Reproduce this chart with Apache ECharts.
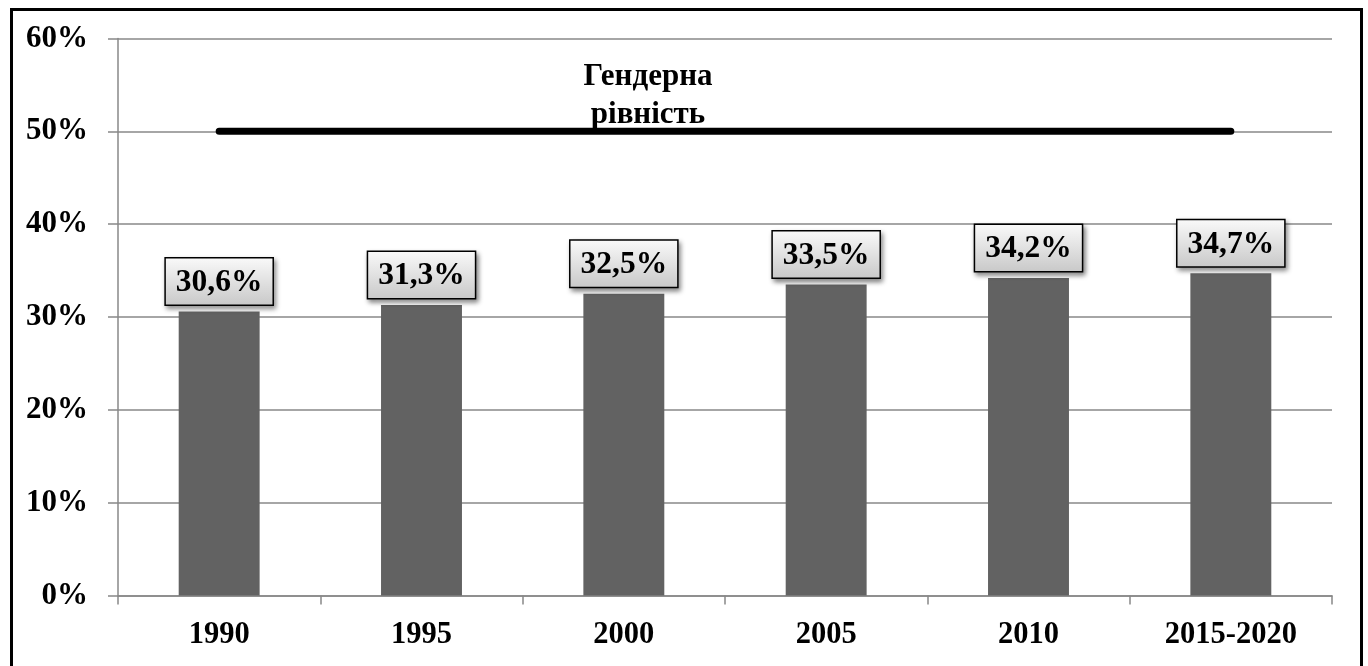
<!DOCTYPE html>
<html><head><meta charset="utf-8">
<script src="https://cdn.jsdelivr.net/npm/echarts@6/dist/echarts.min.js"></script>
<style>html,body{margin:0;padding:0;background:#fff}#c{width:1368px;height:666px}</style>
</head><body><div id="c"></div>
<script>
var categories = ['1990','1995','2000','2005','2010','2015-2020'];
var shareValues = [30.6, 31.3, 32.5, 33.5, 34.2, 34.7];
var parityValues = [50, 50, 50, 50, 50, 50];
var parityLabel = 'Гендерна\nрівність';
var yTicks = [0, 10, 20, 30, 40, 50, 60];

var FONT = '"Liberation Serif", "Times New Roman", serif';
var chart = echarts.init(document.getElementById('c'));
chart.setOption({
  animation: false,
  backgroundColor: '#fff',
  grid: {left: 118, right: 36, top: 38.5, bottom: 70.5},
  title: {
    text: parityLabel, left: 643, top: 53, textAlign: 'center',
    textStyle: {fontFamily: FONT, fontSize: 31, fontWeight: 'bold', lineHeight: 38, color: '#000'}
  },
  xAxis: {
    type: 'category', data: categories,
    axisLine: {lineStyle: {color: '#888', width: 1.5}},
    axisTick: {show: true, length: 9, lineStyle: {color: '#888', width: 1.5}},
    axisLabel: {fontFamily: FONT, fontSize: 30.5, fontWeight: 'bold', color: '#000', margin: 24}
  },
  yAxis: {
    type: 'value', min: yTicks[0], max: yTicks[yTicks.length - 1], interval: 10,
    axisLine: {show: true, lineStyle: {color: '#888', width: 1.5}},
    axisTick: {show: true, length: 10, lineStyle: {color: '#888', width: 1.5}},
    splitLine: {lineStyle: {color: '#888', width: 1.5}},
    axisLabel: {fontFamily: FONT, fontSize: 31, fontWeight: 'bold', color: '#000', margin: 30,
      formatter: function (v) { return v + '%'; }}
  },
  series: [
    {
      type: 'bar', data: shareValues, barWidth: '40%',
      itemStyle: {color: '#626262'},
      label: {
        show: true, position: 'top', distance: 7,
        formatter: function (p) { return String(p.value).replace('.', ',') + '%'; },
        fontFamily: FONT, fontSize: 31.5, fontWeight: 'bold', color: '#000',
        padding: [8, 10, 6, 10],
        backgroundColor: new echarts.graphic.LinearGradient(0, 0, 0, 1, [
          {offset: 0, color: '#fafafa'}, {offset: 1, color: '#c8c8c8'}
        ]),
        borderColor: '#000', borderWidth: 1.5,
        shadowColor: 'rgba(0,0,0,0.45)', shadowBlur: 5, shadowOffsetX: 2, shadowOffsetY: 3
      },
      z: 2
    },
    {
      type: 'line', data: parityValues, symbol: 'none',
      lineStyle: {color: '#000', width: 7, cap: 'round'},
      z: 3
    }
  ],
  graphic: [{
    type: 'rect', shape: {x: 11.5, y: 9.5, width: 1350, height: 665},
    style: {fill: null, stroke: '#000', lineWidth: 3}, z: 100
  }]
});
</script></body></html>
